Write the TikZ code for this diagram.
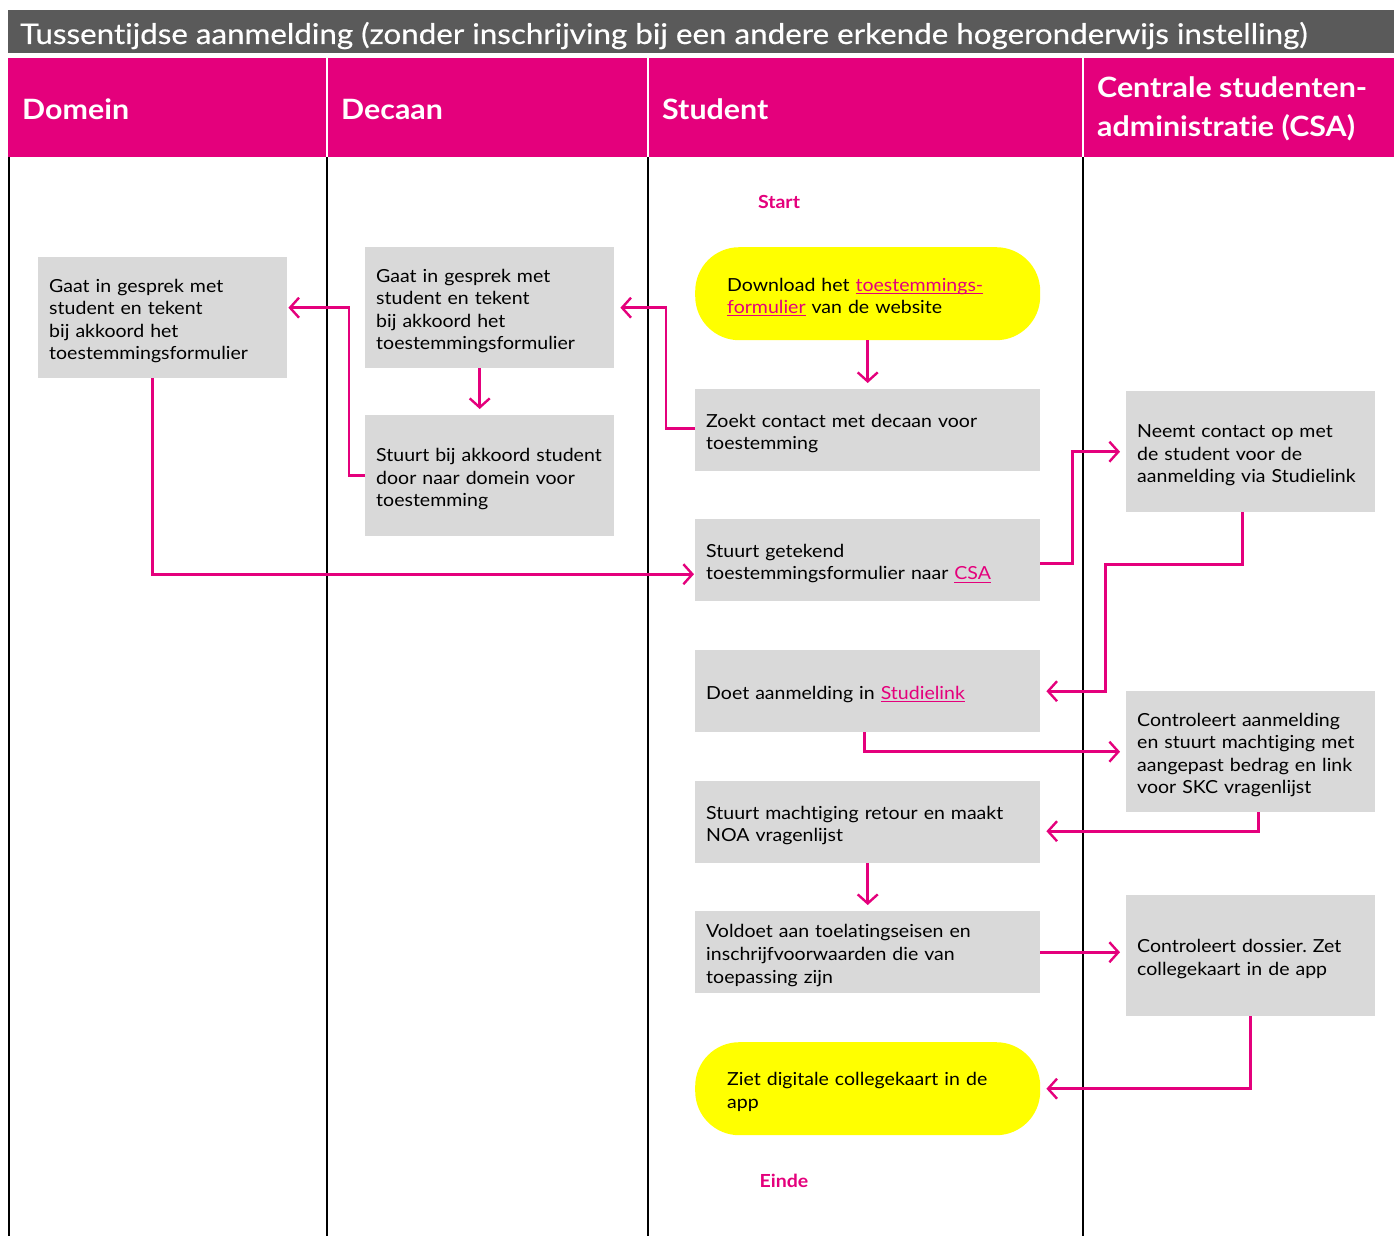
\documentclass[tikz,border=0pt]{standalone}
\usepackage{fontspec}
\setmainfont{Lato}[FakeStretch=1.085, Ligatures=NoCommon]
\newfontfamily\titlefont{Lato}[FakeStretch=1.1, Ligatures=NoCommon, FakeBold=0.5]
\usetikzlibrary{arrows.meta}
\definecolor{mag}{HTML}{E4007C}
\definecolor{titlegray}{HTML}{5A5A5A}
\definecolor{boxgray}{HTML}{D9D9D9}
\definecolor{yel}{HTML}{FFFF00}
\newsavebox\lnkbox
\newcommand\lnk[1]{\textcolor{mag}{\sbox\lnkbox{#1}\rlap{\rule[-2.8pt]{\wd\lnkbox}{1.1pt}}\usebox\lnkbox}}
\newcommand\topstrut{\rule{0pt}{20pt}}
\frenchspacing
\begin{document}
\frenchspacing
\begin{tikzpicture}[x=1pt,y=-1pt,
  bodytext/.style={font=\fontsize{18}{22.6}\selectfont\frenchspacing},
  gbox/.style={bodytext, fill=boxgray, inner xsep=11pt, inner ysep=0pt, align=left, anchor=north west, execute at begin node=\topstrut},
  ybox/.style={bodytext, fill=yel, rounded corners=44pt, inner xsep=32pt, inner ysep=0pt, align=left, anchor=north west, execute at begin node=\topstrut},
  lane/.style={black, line width=1.3pt},
  hdr/.style={text=white, font=\fontsize{28}{39}\selectfont\bfseries, anchor=west, align=left, inner sep=0pt},
  arr/.style={mag, line width=2.6pt, -{Straight Barb[length=9pt,width=20pt,line width=2.4pt]}, shorten >=6pt},
  lbl/.style={text=mag, font=\fontsize{18}{22}\selectfont\bfseries, inner sep=0pt}]
\useasboundingbox (0,0) rectangle (1394,1236);
% title
\fill[titlegray] (8,10) rectangle (1394,53);
\node[text=white, font=\fontsize{28.5}{30}\selectfont\titlefont, anchor=base west, inner sep=0pt] (title) at (20,44) {Tussentijdse aanmelding (zonder inschrijving bij een andere erkende hogeronderwijs instelling)};
% header
\fill[mag] (8,58) rectangle (1394,157);
\foreach \x in {327,648,1083} {\draw[white, line width=2pt] (\x,58) -- (\x,157);}
\foreach \x in {9,327,648,1083} {\draw[lane] (\x,157) -- (\x,1236);}
\node[hdr] (h1) at (22,109) {Domein};
\node[hdr] (h2) at (341,109) {Decaan};
\node[hdr] (h3) at (662,109) {Student};
\node[hdr] (h4) at (1097,109) {Centrale studenten-\\administratie (CSA)};
% labels
\node[lbl] (startlbl) at (779,202) {Start};
\node[lbl] (eindelbl) at (784,1181) {Einde};
% domein
\node[gbox, minimum width=249pt, minimum height=121pt, text width=227pt] (d1) at (38,257) {Gaat in gesprek met\\student en tekent\\bij akkoord het\\toestemmingsformulier};
% decaan
\node[gbox, minimum width=249pt, minimum height=121pt, text width=227pt] (dec1) at (365,247) {Gaat in gesprek met\\student en tekent\\bij akkoord het\\toestemmingsformulier};
\node[gbox, minimum width=249pt, minimum height=121pt, text width=227pt] (dec2) at (365,415) {Stuurt bij akkoord student\\door naar domein voor\\toestemming};
% student
\node[ybox, minimum width=345pt, minimum height=93pt, text width=281pt] (start) at (695,247) {Download het \lnk{toestemmings-}\\\lnk{formulier} van de website};
\node[gbox, minimum width=345pt, minimum height=82pt, text width=323pt] (s1) at (695,389) {Zoekt contact met decaan voor\\toestemming};
\node[gbox, minimum width=345pt, minimum height=82pt, text width=323pt] (s2) at (695,519) {Stuurt getekend\\toestemmingsformulier naar \lnk{CSA}};
\node[gbox, minimum width=345pt, minimum height=82pt, text width=323pt] (s3) at (695,650) {Doet aanmelding in \lnk{Studielink}};
\node[gbox, minimum width=345pt, minimum height=82pt, text width=323pt] (s4) at (695,781) {Stuurt machtiging retour en maakt\\NOA vragenlijst};
\node[gbox, minimum width=345pt, minimum height=82pt, text width=323pt] (s5) at (695,911) {Voldoet aan toelatingseisen en\\inschrijfvoorwaarden die van\\toepassing zijn};
\node[ybox, minimum width=345pt, minimum height=93pt, text width=281pt] (end) at (695,1042) {Ziet digitale collegekaart in de\\app};
% CSA
\node[gbox, minimum width=249pt, minimum height=121pt, text width=227pt] (c1) at (1126,391) {Neemt contact op met\\de student voor de\\aanmelding via Studielink};
\node[gbox, minimum width=249pt, minimum height=121pt, text width=227pt] (c2) at (1126,691) {Controleert aanmelding\\en stuurt machtiging met\\aangepast bedrag en link\\voor SKC vragenlijst};
\node[gbox, minimum width=249pt, minimum height=121pt, text width=227pt] (c3) at (1126,895) {Controleert dossier. Zet\\collegekaart in de app};
% connectors
\draw[arr] (start.south -| s1.north) -- (s1.north);
\draw[arr] ([yshift=2pt]s1.west) -- ++(-29,0) |- (dec1.east);
\draw[arr] ([xshift=-10pt]dec1.south) -- ([xshift=-10pt]dec2.north);
\draw[arr, shorten >=1pt] (dec2.west) -- ++(-16,0) |- (d1.east |- dec1.east);
\draw[arr, shorten >=1pt] ([xshift=-10pt]d1.south) |- ([yshift=-14pt]s2.west);
\draw[arr] ([yshift=-3pt]s2.east) -- ++(32,0) |- (c1.west);
\draw[arr] ([xshift=-8pt]c1.south) -- ++(0,52) -- ++(-137,0) |- (s3.east);
\draw[arr] ([xshift=-3pt]s3.south) |- (c2.west);
\draw[arr] ([xshift=8pt]c2.south) |- ([yshift=-9pt]s4.east);
\draw[arr] (s4.south) -- (s5.north);
\draw[arr] (s5.east) -- (s5.east -| c3.west);
\draw[arr] (c3.south) |- (end.east);
\end{tikzpicture}
\end{document}
